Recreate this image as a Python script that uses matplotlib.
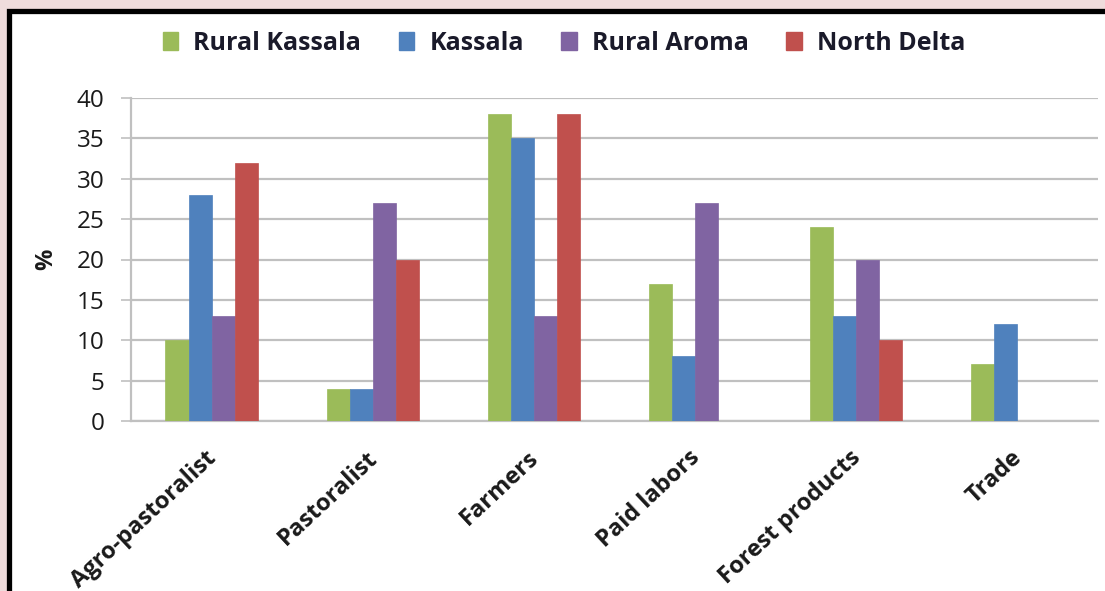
import matplotlib
matplotlib.use("Agg")
import matplotlib.pyplot as plt
import matplotlib.transforms as mtrans
import numpy as np
from matplotlib.patches import Rectangle, Patch

categories = ["Agro-pastoralist", "Pastoralist", "Farmers", "Paid labors", "Forest products", "Trade"]
series_names = ["Rural Kassala", "Kassala", "Rural Aroma", "North Delta"]
rural_kassala = [10, 4, 38, 17, 24, 7]
kassala = [28, 4, 35, 8, 13, 12]
rural_aroma = [13, 27, 13, 27, 20, 0]
north_delta = [32, 20, 38, 0, 10, 0]
colors = ["#9BBB59", "#4F81BD", "#8064A2", "#C0504D"]
yticks = [0, 5, 10, 15, 20, 25, 30, 35, 40]

plt.rcParams['font.family'] = ['Open Sans', 'DejaVu Sans']

W, H = 1105, 591
fig = plt.figure(figsize=(W/100, H/100), dpi=100, facecolor="#efdcdc")
frame = Rectangle((9/W, -0.05), 1.2, 1 - 11/H + 0.05, transform=fig.transFigure,
                  facecolor="white", edgecolor="black", lw=3.8, zorder=-10)
fig.patches.append(frame)

ax = fig.add_axes([131/W, 1-421/H, (1098-131)/W, (421-98)/H])
ax.set_facecolor("none")
x = np.arange(len(categories))
bw = 0.143
data = [rural_kassala, kassala, rural_aroma, north_delta]
for i, (vals, c, n) in enumerate(zip(data, colors, series_names)):
    ax.bar(x + (i - 1.5) * bw, vals, width=bw, color=c, label=n, zorder=3,
           edgecolor=c, linewidth=0.5)

ax.set_xlim(-0.5, len(categories) - 0.5)
ax.set_ylim(0, 40)
ax.set_yticks(yticks)
ax.set_yticklabels([str(v) for v in yticks], fontsize=17.5, color="#1a1a1a")
ax.yaxis.grid(True, color="#c0c0c0", linewidth=1.6, zorder=0)
ax.tick_params(axis='y', length=7, width=1.2, color="#c0c0c0", pad=12)
ax.tick_params(axis='x', length=0)
for s in ["top", "right"]:
    ax.spines[s].set_visible(False)
ax.spines["left"].set_color("#c0c0c0")
ax.spines["left"].set_linewidth(1.6)
ax.spines["bottom"].set_color("#c0c0c0")
ax.spines["bottom"].set_linewidth(1.6)

ax.set_xticks(x)
ax.set_xticklabels(categories, rotation=43, ha="right", va="top",
                   rotation_mode="anchor", fontsize=17, fontweight="bold", color="#1a1a1a")
ax.tick_params(axis='x', pad=18)
offset = mtrans.ScaledTranslation(-7/100, 0, fig.dpi_scale_trans)
for lbl in ax.get_xticklabels():
    lbl.set_transform(lbl.get_transform() + offset)

ax.set_ylabel("%", fontsize=17, fontweight="bold", color="#1a1a1a", labelpad=13)

handles = [Patch(facecolor=c, edgecolor=c) for c in colors]
leg = fig.legend(handles, series_names, loc="center", bbox_to_anchor=(564/W, 1-43/H),
                 ncol=4, frameon=False, handlelength=0.62, handleheight=0.72,
                 handletextpad=0.6, columnspacing=1.5,
                 prop={"size": 18, "weight": "bold"})
for t in leg.get_texts():
    t.set_color("#1a1a2a")

fig.savefig("out.png", dpi=100, facecolor=fig.get_facecolor())
